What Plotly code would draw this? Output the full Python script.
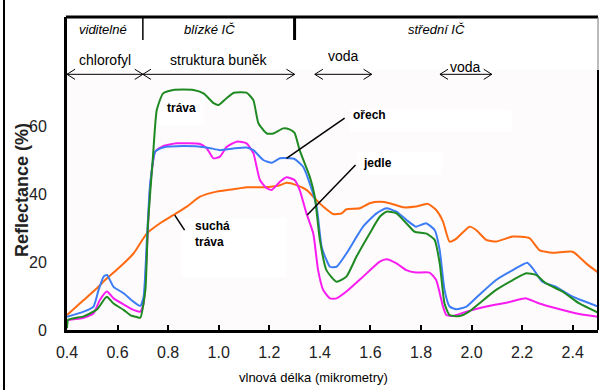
import plotly.graph_objects as go

# ---------------- data ----------------
trava_x = [0.4, 0.405, 0.466, 0.518, 0.55, 0.558, 0.584, 0.624, 0.65, 0.676, 0.69, 0.71, 0.72, 0.74, 0.755,
           0.78, 0.82, 0.9, 0.94, 0.98, 1.0, 1.03, 1.06, 1.11, 1.137, 1.157, 1.19, 1.216, 1.255, 1.28, 1.3,
           1.32, 1.36, 1.38, 1.4, 1.426, 1.466, 1.505, 1.545, 1.597, 1.637, 1.663, 1.703, 1.742, 1.775, 1.82,
           1.854, 1.874, 1.893, 1.913, 1.953, 1.99, 2.03, 2.097, 2.163, 2.216, 2.255, 2.295, 2.36, 2.426, 2.5]
trava_y = [0.5, 3.0, 4.0, 6.0, 9.3, 9.8, 7.8, 5.9, 4.4, 3.8, 3.6, 11.8, 31, 51, 64.7,
           69.6, 70.6, 70.6, 69.6, 66.7, 66.2, 68.1, 69.8, 69.8, 67.6, 60.8, 57.8, 57.8, 59.3, 59.0, 58.0,
           52.9, 45.1, 39.2, 26.5, 17.6, 14.2, 15.7, 21.6, 28.4, 33.3, 34.8, 34.3, 31.4, 28.9, 28.4,
           26.5, 19.6, 7.8, 4.4, 4.1, 5.4, 7.8, 11.8, 14.7, 16.7, 16.2, 13.7, 11.3, 7.8, 5.1]

orech_x = [0.4, 0.466, 0.505, 0.525, 0.545, 0.558, 0.584, 0.624, 0.663, 0.69, 0.703, 0.716, 0.729, 0.749,
           0.78, 0.86, 0.953, 1.005, 1.058, 1.11, 1.137, 1.176, 1.21, 1.242, 1.28, 1.3, 1.334, 1.36, 1.387,
           1.407, 1.426, 1.44, 1.466, 1.505, 1.571, 1.624, 1.663, 1.703, 1.742, 1.78, 1.82, 1.854, 1.874,
           1.893, 1.913, 1.94, 1.98, 2.03, 2.097, 2.163, 2.22, 2.242, 2.28, 2.334, 2.4, 2.5]
orech_y = [3.9, 5.4, 6.9, 11.8, 15.7, 16.2, 12.7, 10.8, 8.3, 7.1, 9.8, 26.5, 43.1, 52.5,
           53.7, 54.1, 53.7, 52.9, 53.4, 53.7, 52.9, 50.0, 49.2, 50.5, 50.5, 50.3, 48.0, 43.1, 36.3,
           24.5, 20.6, 18.6, 18.6, 22.5, 30.4, 34.3, 35.8, 34.8, 32.4, 30.4, 31.4, 29.4, 23.5,
           11.8, 6.9, 6.1, 6.9, 10.3, 14.7, 17.6, 19.8, 18.1, 14.2, 12.7, 9.8, 6.9]

jedle_x = [0.4, 0.466, 0.505, 0.53, 0.558, 0.584, 0.624, 0.663, 0.69, 0.703, 0.716, 0.729, 0.749, 0.78,
           0.834, 0.926, 0.953, 0.979, 1.005, 1.032, 1.071, 1.11, 1.137, 1.163, 1.19, 1.21, 1.242, 1.268,
           1.3, 1.32, 1.347, 1.374, 1.393, 1.413, 1.44, 1.466, 1.505, 1.571, 1.637, 1.663, 1.703, 1.742,
           1.78, 1.834, 1.86, 1.887, 1.9, 1.926, 1.98, 2.058, 2.137, 2.216, 2.268, 2.334, 2.426, 2.5]
jedle_y = [2.9, 3.6, 4.9, 8.8, 11.3, 9.3, 7.5, 5.9, 5.4, 7.8, 23.5, 42.2, 52.5, 54.1,
           54.9, 54.7, 53.4, 50.5, 51.0, 53.9, 55.4, 54.9, 52.0, 44.1, 41.7, 41.2, 43.6, 44.9,
           44.1, 41.2, 34.3, 28.4, 17.6, 11.8, 9.3, 9.3, 11.3, 15.7, 20.1, 20.8, 19.6, 17.6,
           16.9, 16.9, 14.7, 6.9, 4.4, 4.1, 5.4, 6.9, 8.0, 9.3, 7.8, 6.4, 4.7, 3.9]

sucha_x = [0.4, 0.466, 0.518, 0.558, 0.61, 0.663, 0.716, 0.768, 0.82, 0.874, 0.926, 0.992, 1.058, 1.11,
           1.176, 1.242, 1.268, 1.308, 1.347, 1.387, 1.413, 1.453, 1.486, 1.505, 1.558, 1.597, 1.637,
           1.676, 1.729, 1.78, 1.827, 1.86, 1.887, 1.913, 1.94, 1.992, 2.018, 2.058, 2.097, 2.163, 2.229,
           2.268, 2.32, 2.4, 2.453, 2.5]
sucha_y = [4.4, 8.8, 12.3, 15.2, 18.6, 22.5, 28.4, 31.4, 33.8, 36.3, 39.2, 40.7, 41.4, 42.0,
           42.0, 42.6, 43.3, 42.6, 41.2, 38.2, 36.3, 34.1, 34.3, 35.5, 35.8, 37.3, 37.7,
           37.3, 36.1, 36.3, 37.1, 35.3, 31.9, 26.0, 26.9, 30.4, 29.4, 26.5, 26.0, 27.5, 27.0,
           23.5, 22.7, 23.0, 19.6, 16.9]

x_ticks = [0.4, 0.6, 0.8, 1.0, 1.2, 1.4, 1.6, 1.8, 2.0, 2.2, 2.4]
y_ticks = [0, 20, 40, 60]

regions = ["viditelné", "blízké IČ", "střední IČ"]
region_x = [0.542, 0.965, 1.86]
region_bounds = [0.7, 1.3]

bands = ["chlorofyl", "struktura buněk", "voda", "voda"]
band_from = [0.4, 0.7, 1.38, 1.875]
band_to = [0.7, 1.3, 1.605, 2.08]
band_label_y = [79.5, 79.5, 80.5, 77.5]

FONT = "Arial, Liberation Sans, sans-serif"

# layout geometry (pixels)
W, H = 600, 390
ML, MR, MT, MB = 67, 2, 17, 60
PW, PH = W - ML - MR, H - MT - MB
YTOP = 92.06


def px_x(p):
    return (p - ML) / PW


def px_y(p):
    return (H - MB - p) / PH


fig = go.Figure()

series = [
    ("suchá tráva", sucha_x, sucha_y, "#ff6a10"),
    ("jedle", jedle_x, jedle_y, "#f81cf0"),
    ("ořech", orech_x, orech_y, "#3c7cf4"),
    ("tráva", trava_x, trava_y, "#1f8a22"),
]
for name, xs, ys, col in series:
    fig.add_trace(go.Scatter(x=xs, y=ys, name=name, mode="lines",
                             line=dict(color=col, width=2, shape="spline", smoothing=0.5),
                             hoverinfo="skip"))

shapes = []
annotations = []

# white header region
shapes.append(dict(type="rect", xref="paper", yref="y", x0=0, x1=1, y0=76.5, y1=YTOP,
                   fillcolor="white", line=dict(width=0), layer="below"))
# white label boxes
for (x0, x1, y0, y1) in [(1.519, 2.158, 58.2, 64.7), (1.551, 1.883, 45.6, 52.4),
                         (0.853, 1.268, 15.6, 32.9), (0.76, 0.94, 60.3, 67.6)]:
    shapes.append(dict(type="rect", xref="x", yref="y", x0=x0, x1=x1, y0=y0, y1=y1,
                       fillcolor="white", line=dict(width=0), layer="below"))

# frame
shapes.append(dict(type="line", xref="paper", yref="paper", x0=-0.002, x1=1.0, y0=1, y1=1,
                   line=dict(color="black", width=3)))
shapes.append(dict(type="line", xref="paper", yref="y", x0=1, x1=1, y0=76.5, y1=YTOP,
                   line=dict(color="#777", width=1)))
shapes.append(dict(type="line", xref="paper", yref="y", x0=1, x1=1, y0=0, y1=76.5,
                   line=dict(color="black", width=2)))
# outer left border of the picture
shapes.append(dict(type="line", xref="paper", yref="paper", x0=px_x(4), x1=px_x(4), y0=px_y(395), y1=px_y(-5),
                   line=dict(color="black", width=2)))

# region separators
shapes.append(dict(type="line", xref="x", yref="y", x0=region_bounds[0], x1=region_bounds[0],
                   y0=85.3, y1=YTOP, line=dict(color="black", width=1.5)))
shapes.append(dict(type="line", xref="x", yref="y", x0=region_bounds[1], x1=region_bounds[1],
                   y0=85.3, y1=YTOP, line=dict(color="black", width=3)))

for name, xc in zip(regions, region_x):
    annotations.append(dict(x=xc, y=88.3, xref="x", yref="y", text=f"<i>{name}</i>", showarrow=False,
                            font=dict(family=FONT, size=13, color="black")))

# band arrows (double-headed with open chevrons)
hx, hy = 0.032, 1.5
for lab, a, b, ly in zip(bands, band_from, band_to, band_label_y):
    y = 75.2
    path = (f"M {a},{y} L {b},{y} "
            f"M {a + hx},{y + hy} L {a},{y} L {a + hx},{y - hy} "
            f"M {b - hx},{y + hy} L {b},{y} L {b - hx},{y - hy}")
    shapes.append(dict(type="path", xref="x", yref="y", path=path, line=dict(color="black", width=1)))
    annotations.append(dict(x=(a + b) / 2, y=ly, xref="x", yref="y", text=lab, showarrow=False,
                            font=dict(family=FONT, size=14, color="black")))

# curve labels
lab_font = dict(family=FONT, size=12, color="black")
annotations.append(dict(x=0.853, y=65.3, xref="x", yref="y", text="<b>tráva</b>", showarrow=False,
                        font=lab_font))
annotations.append(dict(x=0.897, y=28.2, xref="x", yref="y", text="<b>suchá<br>tráva</b>",
                        showarrow=False, xanchor="left", align="left", font=lab_font))
annotations.append(dict(x=1.525, y=63.2, xref="x", yref="y", text="<b>ořech</b>", showarrow=False,
                        xanchor="left", font=lab_font))
annotations.append(dict(x=1.561, y=49.2, xref="x", yref="y", text="<b>jedle</b>", showarrow=False,
                        xanchor="left", font=lab_font))

# leader lines
for (x0, y0, x1, y1) in [(1.498, 62.3, 1.268, 50.5), (1.541, 48.5, 1.35, 33.8), (0.826, 33.8, 0.865, 29.4)]:
    shapes.append(dict(type="line", xref="x", yref="y", x0=x0, y0=y0, x1=x1, y1=y1,
                       line=dict(color="black", width=1.5)))

# axis titles
annotations.append(dict(x=px_x(313), y=px_y(377), xref="paper", yref="paper",
                        text="vlnová délka (mikrometry)", showarrow=False, xanchor="center", yanchor="middle",
                        font=dict(family=FONT, size=13, color="black")))
annotations.append(dict(x=px_x(22), y=px_y(190), xref="paper", yref="paper",
                        text="<b>Reflectance (%)</b>", showarrow=False, textangle=-90,
                        xanchor="center", yanchor="middle",
                        font=dict(family=FONT, size=18, color="#222")))

fig.update_layout(
    width=W, height=H,
    margin=dict(l=ML, r=MR, t=MT, b=MB, autoexpand=False),
    paper_bgcolor="white",
    plot_bgcolor="#fefbfd",
    showlegend=False,
    font=dict(family=FONT, color="#222"),
    shapes=shapes,
    annotations=annotations,
    xaxis=dict(range=[0.4, 2.5], tickvals=x_ticks, ticktext=[f"{v:.1f}" for v in x_ticks],
               showgrid=False, zeroline=False, showline=True, linecolor="black", linewidth=3,
               ticks="inside", ticklen=5, tickwidth=1.5, tickcolor="black", automargin=False,
               tickfont=dict(family=FONT, size=16, color="#222"), ticklabelstandoff=6),
    yaxis=dict(range=[0, YTOP], tickvals=y_ticks, showgrid=False, zeroline=False,
               showline=True, linecolor="black", linewidth=3, ticks="", automargin=False,
               tickfont=dict(family=FONT, size=16, color="#222"), ticklabelstandoff=14),
)

fig.write_html("out.html", config={"displayModeBar": False},
               post_script="document.body.style.margin='0';document.body.style.padding='0';"
                           "document.documentElement.style.overflow='hidden';")
